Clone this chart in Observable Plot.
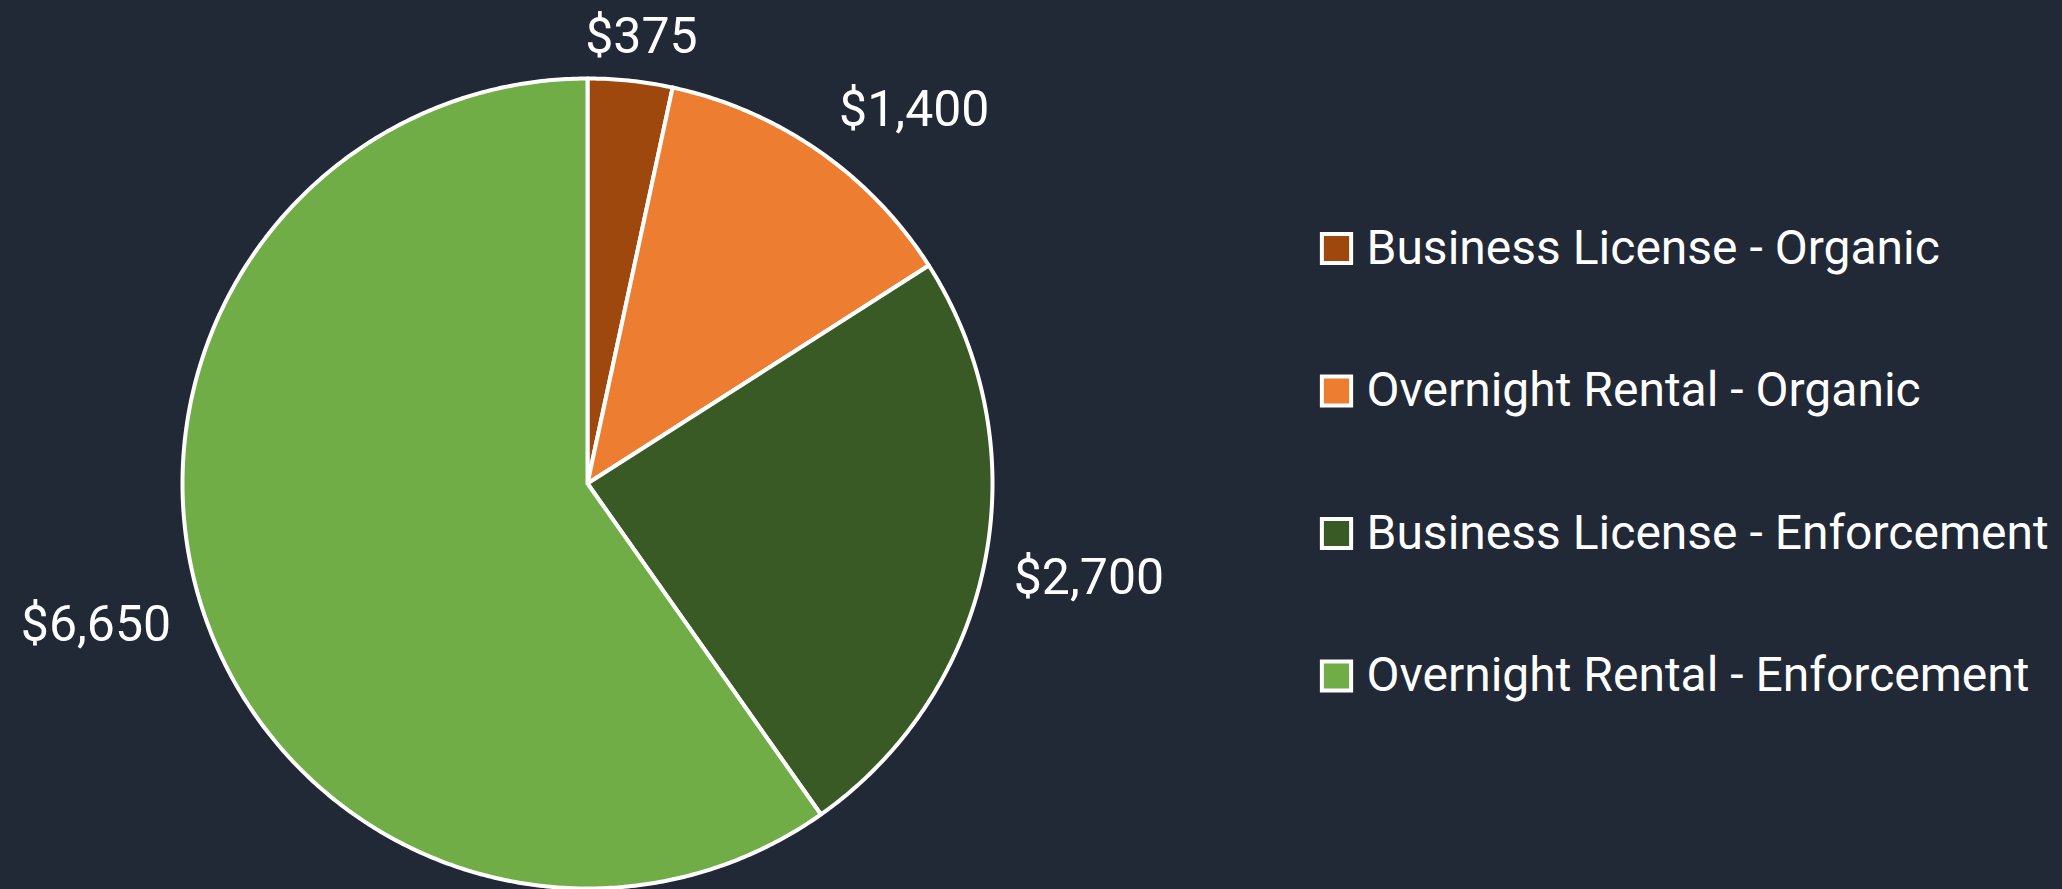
<!DOCTYPE html>
<html>
<head>
<meta charset="utf-8">
<script src="https://cdn.jsdelivr.net/npm/d3@7"></script>
<script src="https://cdn.jsdelivr.net/npm/@observablehq/plot@0.6"></script>
<style>
  html, body { margin: 0; padding: 0; background: #212836; }
  #chart svg { display: block; }
</style>
</head>
<body>
<div id="chart"></div>
<script>
// ---- Data ----
const categories = [
  "Business License - Organic",
  "Overnight Rental - Organic",
  "Business License - Enforcement",
  "Overnight Rental - Enforcement"
];
const values = [375, 1400, 2700, 6650];
const colors = ["#9E480E", "#ED7D31", "#3A5A25", "#70AD47"];

// ---- Layout ----
const W = 2062, H = 889;
const CX = 587, CY = 483, R = 405;      // pie centre & radius (px)
const LABEL_R = 1.05;                   // label anchor radius (pie units)
const LEG_X = 1336, LEG_Y0 = 248, LEG_STEP = 142.5, LEG_TEXT_X = 1366;
const toUX = px => (px - CX) / R;
const toUY = py => (CY - py) / R;

const total = d3.sum(values);
let acc = 0;
const slices = categories.map((c, i) => {
  const a0 = acc / total * 2 * Math.PI;
  acc += values[i];
  const a1 = acc / total * 2 * Math.PI;
  return {category: c, value: values[i], a0, a1, mid: (a0 + a1) / 2};
});

// polygon points for each slice (centre -> arc -> centre)
const piePts = [];
for (const s of slices) {
  piePts.push({category: s.category, x: 0, y: 0});
  const n = Math.max(2, Math.ceil((s.a1 - s.a0) / (Math.PI / 360)));
  for (let k = 0; k <= n; k++) {
    const a = s.a0 + (s.a1 - s.a0) * k / n;
    piePts.push({category: s.category, x: Math.sin(a), y: Math.cos(a)});
  }
  piePts.push({category: s.category, x: 0, y: 0});
}

const fmt = v => "$" + d3.format(",")(v);

const labelMarks = slices.map(s => {
  const sx = Math.sin(s.mid), cy = Math.cos(s.mid);
  const anchor = Math.abs(sx) < 0.25 ? "middle" : (sx > 0 ? "start" : "end");
  const line = cy > 0 ? "bottom" : "top";
  return Plot.text([s], {
    x: d => LABEL_R * Math.sin(d.mid),
    y: d => LABEL_R * Math.cos(d.mid),
    text: d => fmt(d.value),
    textAnchor: anchor,
    lineAnchor: line,
    dx: sx > 0 ? 9 : -11,
    dy: line === "bottom" ? -8 : -7,
    fill: "#ffffff",
    fontSize: 50,
    fontFamily: "Roboto, sans-serif"
  });
});

const legendData = categories.map((c, i) => ({category: c, i}));

const chart = Plot.plot({
  width: W,
  height: H,
  margin: 0,
  style: {background: "#212836", color: "#ffffff", overflow: "visible"},
  x: {domain: [toUX(0), toUX(W)], axis: null},
  y: {domain: [toUY(H), toUY(0)], axis: null},
  color: {domain: categories, range: colors, legend: false},
  marks: [
    Plot.line(piePts, {
      x: "x", y: "y", z: "category",
      fill: "category",
      stroke: "#ffffff",
      strokeWidth: 4,
      strokeLinejoin: "round"
    }),
    ...labelMarks,
    Plot.dot(legendData, {
      x: () => toUX(LEG_X),
      y: d => toUY(LEG_Y0 + d.i * LEG_STEP),
      symbol: "square",
      r: 16.5,
      fill: "category",
      stroke: "#ffffff",
      strokeWidth: 4
    }),
    Plot.text(legendData, {
      x: () => toUX(LEG_TEXT_X),
      y: d => toUY(LEG_Y0 + d.i * LEG_STEP),
      text: "category",
      textAnchor: "start",
      lineAnchor: "middle",
      fill: "#ffffff",
      fontSize: 48,
      fontFamily: "Roboto, sans-serif"
    })
  ]
});

document.getElementById("chart").appendChild(chart);
</script>
</body>
</html>
